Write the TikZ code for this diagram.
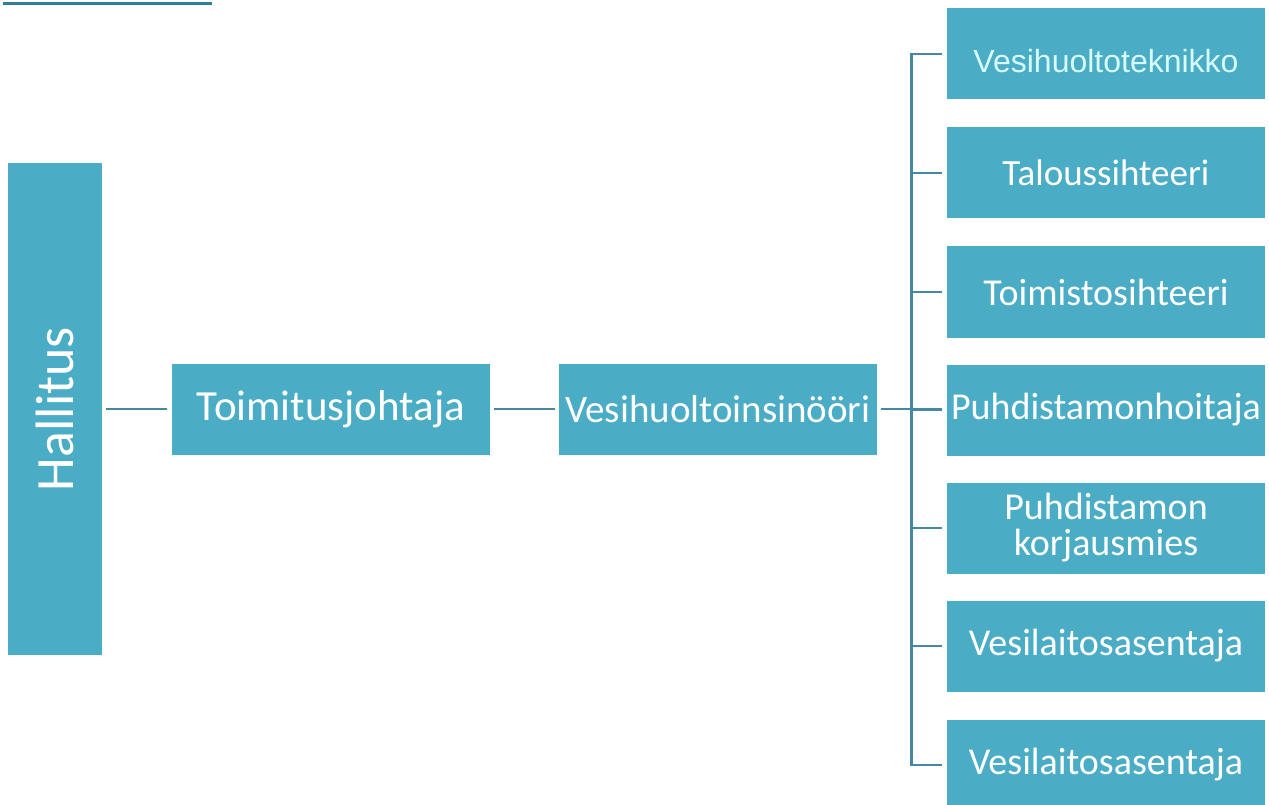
\documentclass[tikz,border=0pt]{standalone}
\usepackage{fontspec}
\setmainfont{Carlito}
\newfontfamily\arialfont{Liberation Sans}
\definecolor{boxblue}{RGB}{75,172,198}
\definecolor{linkblue}{RGB}{70,136,158}
\definecolor{topblue}{RGB}{46,128,153}
\definecolor{paletext}{RGB}{214,252,255}
\tikzset{
  orgbox/.style={fill=boxblue,text=white,inner sep=0pt,minimum width=318,minimum height=91,
    align=center,font=\fontsize{38}{36}\selectfont},
  link/.style={draw=linkblue,line width=2.8pt}
}

\begin{document}
\begin{tikzpicture}[x=1pt,y=-1pt]
  \clip (0,0) rectangle (1269,805);
  \fill[white] (0,0) rectangle (1269,805);
  % stray rule at the top
  \draw[topblue,line width=3pt] (3,3.5) -- (212,3.5);
  % left boxes
  \node[orgbox,minimum width=94,minimum height=492] (hallitus) at (55,409)
    {\rotatebox{90}{\fontsize{54}{54}\selectfont Hallitus}};
  \node[orgbox,font=\fontsize{43}{43}\selectfont] (toimitus) at (331,409) {Toimitusjohtaja};
  \node[orgbox,font=\fontsize{39}{36}\selectfont] (insinoori) at (718,409) {Vesihuoltoinsinööri};
  % right column
  \node[orgbox,text=paletext,font=\arialfont\fontsize{32}{32}\selectfont] (tekn) at (1106,54)
    {\raisebox{-19pt}[0pt][0pt]{Vesihuoltoteknikko}};
  \node[orgbox,font=\fontsize{37}{36}\selectfont] (talous) at (1106,173) {Taloussihteeri};
  \node[orgbox] (toimisto) at (1106,292) {Toimistosihteeri};
  \node[orgbox] (hoitaja) at (1106,410) {Puhdistamonhoitaja};
  \node[orgbox] (korjaus) at (1106,528) {Puhdistamon\\korjausmies};
  \node[orgbox] (asentaja) at (1106,646) {Vesilaitosasentaja};
  \node[orgbox] (asentajab) at (1106,765) {Vesilaitosasentaja};
  % connectors
  \draw[link,shorten <=4pt,shorten >=5pt] (hallitus.east) -- (toimitus.west);
  \draw[link,shorten <=4pt,shorten >=4pt] (toimitus.west -| toimitus.east) -- (insinoori.west);
  \draw[link] ([xshift=4pt]insinoori.east) -- ([xshift=-5pt]insinoori.east -| hoitaja.west);
  \draw[link] ([xshift=-35pt]tekn.west) -- ([xshift=-35pt]asentajab.west);
  \foreach \b in {tekn,talous,toimisto,hoitaja,korjaus,asentaja,asentajab}
    \draw[link] ([xshift=-36.4pt]\b.west) -- ([xshift=-5pt]\b.west);
\end{tikzpicture}
\end{document}
